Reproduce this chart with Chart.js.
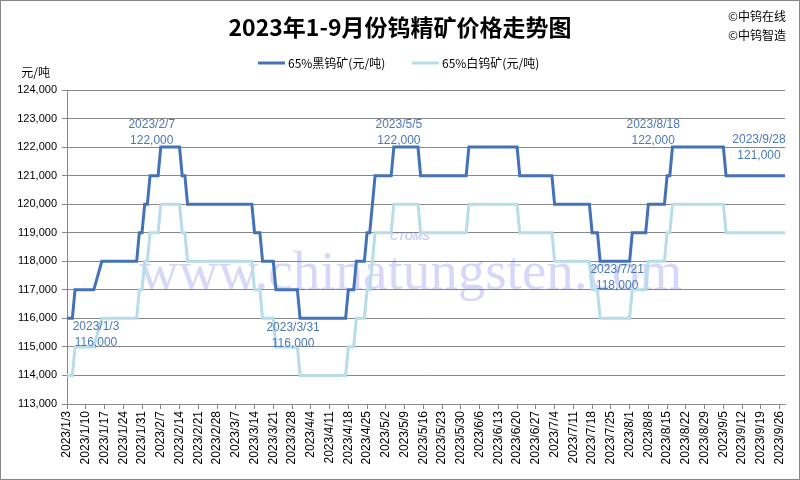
<!DOCTYPE html>
<html>
<head>
<meta charset="utf-8">
<script src="https://cdn.jsdelivr.net/npm/chart.js@4.4.1/dist/chart.umd.min.js"></script>
<style>
  html, body { margin: 0; padding: 0; background: #fff; }
  canvas { display: block; }
</style>
</head>
<body>
<canvas id="priceChart" width="800" height="480"></canvas>
<script>
// --- 데이터: 65%黑钨矿 ---
const blackDates = ['2023/1/3','2023/1/5','2023/1/6','2023/1/13','2023/1/16','2023/1/29','2023/1/30','2023/1/31',
  '2023/2/1','2023/2/2','2023/2/3','2023/2/6','2023/2/7','2023/2/14','2023/2/15','2023/2/16','2023/2/17',
  '2023/3/13','2023/3/14','2023/3/16','2023/3/17','2023/3/21','2023/3/22','2023/3/30','2023/3/31',
  '2023/4/17','2023/4/18','2023/4/20','2023/4/21','2023/4/24','2023/4/25','2023/4/26','2023/4/27','2023/4/28',
  '2023/5/4','2023/5/5','2023/5/14','2023/5/15','2023/6/1','2023/6/2','2023/6/20','2023/6/21',
  '2023/7/3','2023/7/4','2023/7/17','2023/7/18','2023/7/20','2023/7/21',
  '2023/8/1','2023/8/2','2023/8/7','2023/8/8','2023/8/14','2023/8/15','2023/8/16','2023/8/17','2023/8/18',
  '2023/9/5','2023/9/6','2023/9/28'];
const blackPrices = [116000,116000,117000,117000,118000,118000,119000,119000,
  120000,120000,121000,121000,122000,122000,121000,121000,120000,
  120000,119000,119000,118000,118000,117000,117000,116000,
  116000,117000,117000,118000,118000,119000,119000,120000,121000,
  121000,122000,122000,121000,121000,122000,122000,121000,
  121000,120000,120000,119000,119000,118000,
  118000,119000,119000,120000,120000,121000,121000,122000,122000,
  122000,121000,121000];

// --- 데이터: 65%白钨矿 ---
const whiteDates = blackDates.slice();
const whitePrices = [114000,114000,115000,115000,116000,116000,117000,117000,
  118000,118000,119000,119000,120000,120000,119000,119000,118000,
  118000,117000,117000,116000,116000,115000,115000,114000,
  114000,115000,115000,116000,116000,117000,117000,118000,119000,
  119000,120000,120000,119000,119000,120000,120000,119000,
  119000,118000,118000,117000,117000,116000,
  116000,117000,117000,118000,118000,119000,119000,120000,120000,
  120000,119000,119000];

const seriesNames = ['65%黑钨矿(元/吨)', '65%白钨矿(元/吨)'];

const tickLabels = ['2023/1/3','2023/1/10','2023/1/17','2023/1/24','2023/1/31','2023/2/7','2023/2/14','2023/2/21',
  '2023/2/28','2023/3/7','2023/3/14','2023/3/21','2023/3/28','2023/4/4','2023/4/11','2023/4/18','2023/4/25',
  '2023/5/2','2023/5/9','2023/5/16','2023/5/23','2023/5/30','2023/6/6','2023/6/13','2023/6/20','2023/6/27',
  '2023/7/4','2023/7/11','2023/7/18','2023/7/25','2023/8/1','2023/8/8','2023/8/15','2023/8/22','2023/8/29',
  '2023/9/5','2023/9/12','2023/9/19','2023/9/26'];
const firstDate = '2023/1/3', lastDate = '2023/9/28';
const yMin = 113000, yMax = 124000, yStep = 1000;

// 데이터 라벨 (시리즈 번호, 날짜, 값)
const callouts = [
  { series: 0, date: '2023/1/3',  value: 116000 },
  { series: 0, date: '2023/2/7',  value: 122000 },
  { series: 0, date: '2023/3/31', value: 116000 },
  { series: 0, date: '2023/5/5',  value: 122000 },
  { series: 0, date: '2023/7/21', value: 118000 },
  { series: 0, date: '2023/8/18', value: 122000 },
  { series: 0, date: '2023/9/28', value: 121000 }
];

const BLACK = '#4472B8', WHITE = '#B7DDE8', LABEL = '#4A78B8', GRID = '#888888';
const CJK = '"Noto Sans CJK SC", "Noto Sans", sans-serif';

const day0 = Date.UTC(2023, 0, 3);
function dayOf(s) { const [y, m, d] = s.split('/').map(Number); return (Date.UTC(y, m - 1, d) - day0) / 86400000; }
function labelOf(v) { const dt = new Date(day0 + v * 86400000); return `${dt.getUTCFullYear()}/${dt.getUTCMonth() + 1}/${dt.getUTCDate()}`; }
const fmt = (n) => n.toLocaleString('en-US');

// 라벨 위치 보정값 (px)
const calloutOffsets = [[29, 8], [-9, -22], [-7, 9], [5, -22], [17, 8], [-22, -22], [-26, -36]];

const decorPlugin = {
  id: 'decor',
  beforeDatasetsDraw(chart) {
    const ctx = chart.ctx;
    ctx.save();
    // 워터마크
    ctx.fillStyle = 'rgba(110,110,230,0.28)';
    ctx.font = '55px "Liberation Serif", serif';
    ctx.textAlign = 'left'; ctx.textBaseline = 'alphabetic';
    ctx.fillText('www.chinatungsten.com', 139, 289);
    ctx.font = 'bold italic 11px "Liberation Sans", sans-serif';
    ctx.fillStyle = 'rgba(110,110,230,0.35)';
    ctx.fillText('CTOMS', 390, 240);
    ctx.restore();
  },
  afterDraw(chart) {
    const ctx = chart.ctx;
    ctx.save();
    // 제목
    ctx.fillStyle = '#000';
    ctx.textAlign = 'center'; ctx.textBaseline = 'middle';
    ctx.font = 'bold 23px ' + CJK;
    ctx.fillText('2023年1-9月份钨精矿价格走势图', 400, 27);
    // 저작권
    ctx.textAlign = 'left';
    ctx.font = '12px ' + CJK;
    ctx.fillText('©中钨在线', 728, 16);
    ctx.fillText('©中钨智造', 728, 35);
    // 범례
    const legendItems = [[258, BLACK, seriesNames[0]], [412, WHITE, seriesNames[1]]];
    legendItems.forEach(([x, col, txt]) => {
      ctx.strokeStyle = col; ctx.lineWidth = 3;
      ctx.beginPath(); ctx.moveTo(x, 63); ctx.lineTo(x + 27, 63); ctx.stroke();
      ctx.fillStyle = '#000';
      ctx.fillText(txt, x + 30, 63);
    });
    // 단위
    ctx.textAlign = 'right';
    ctx.fillText('元/吨', 50, 72);
    // 데이터 라벨
    const xs = chart.scales.x, ys = chart.scales.y;
    ctx.textAlign = 'center';
    ctx.fillStyle = LABEL;
    ctx.font = '12px "Liberation Sans", sans-serif';
    callouts.forEach((c, i) => {
      const px = xs.getPixelForValue(dayOf(c.date)), py = ys.getPixelForValue(c.value);
      const [dx, dy] = calloutOffsets[i];
      ctx.fillText(c.date, px + dx, py + dy);
      ctx.fillText(fmt(c.value), px + dx, py + dy + 16);
    });
    // 테두리
    ctx.strokeStyle = '#888'; ctx.lineWidth = 1;
    ctx.strokeRect(0.5, 0.5, 799, 479);
    ctx.restore();
  }
};

new Chart(document.getElementById('priceChart'), {
  type: 'line',
  data: {
    datasets: [
      { label: seriesNames[0], data: blackDates.map((d, i) => ({ x: dayOf(d), y: blackPrices[i] })),
        borderColor: BLACK, backgroundColor: BLACK, borderWidth: 3, pointRadius: 0, tension: 0 },
      { label: seriesNames[1], data: whiteDates.map((d, i) => ({ x: dayOf(d), y: whitePrices[i] })),
        borderColor: WHITE, backgroundColor: WHITE, borderWidth: 3, pointRadius: 0, tension: 0 }
    ]
  },
  options: {
    responsive: false, animation: false,
    layout: { padding: { top: 90, right: 15, bottom: 0, left: 0 } },
    plugins: { legend: { display: false }, title: { display: false }, tooltip: { enabled: false } },
    scales: {
      x: {
        type: 'linear', min: dayOf(firstDate), max: dayOf(lastDate),
        afterBuildTicks: (s) => { s.ticks = tickLabels.map(l => ({ value: dayOf(l) })); },
        afterFit: (s) => { s.height = 76; },
        grid: { drawOnChartArea: false, color: GRID, tickLength: 5 },
        border: { color: GRID },
        ticks: { autoSkip: false, minRotation: 90, maxRotation: 90, padding: 2, color: '#000',
          font: { family: '"Liberation Sans", sans-serif', size: 12 }, callback: (v) => labelOf(v) }
      },
      y: {
        min: yMin, max: yMax,
        afterFit: (s) => { s.width = 67; },
        grid: { color: GRID, tickLength: 5 },
        border: { color: GRID },
        ticks: { stepSize: yStep, padding: 5, color: '#000',
          font: { family: '"Liberation Sans", sans-serif', size: 11 }, callback: (v) => fmt(v) }
      }
    }
  },
  plugins: [decorPlugin]
});
</script>
</body>
</html>
